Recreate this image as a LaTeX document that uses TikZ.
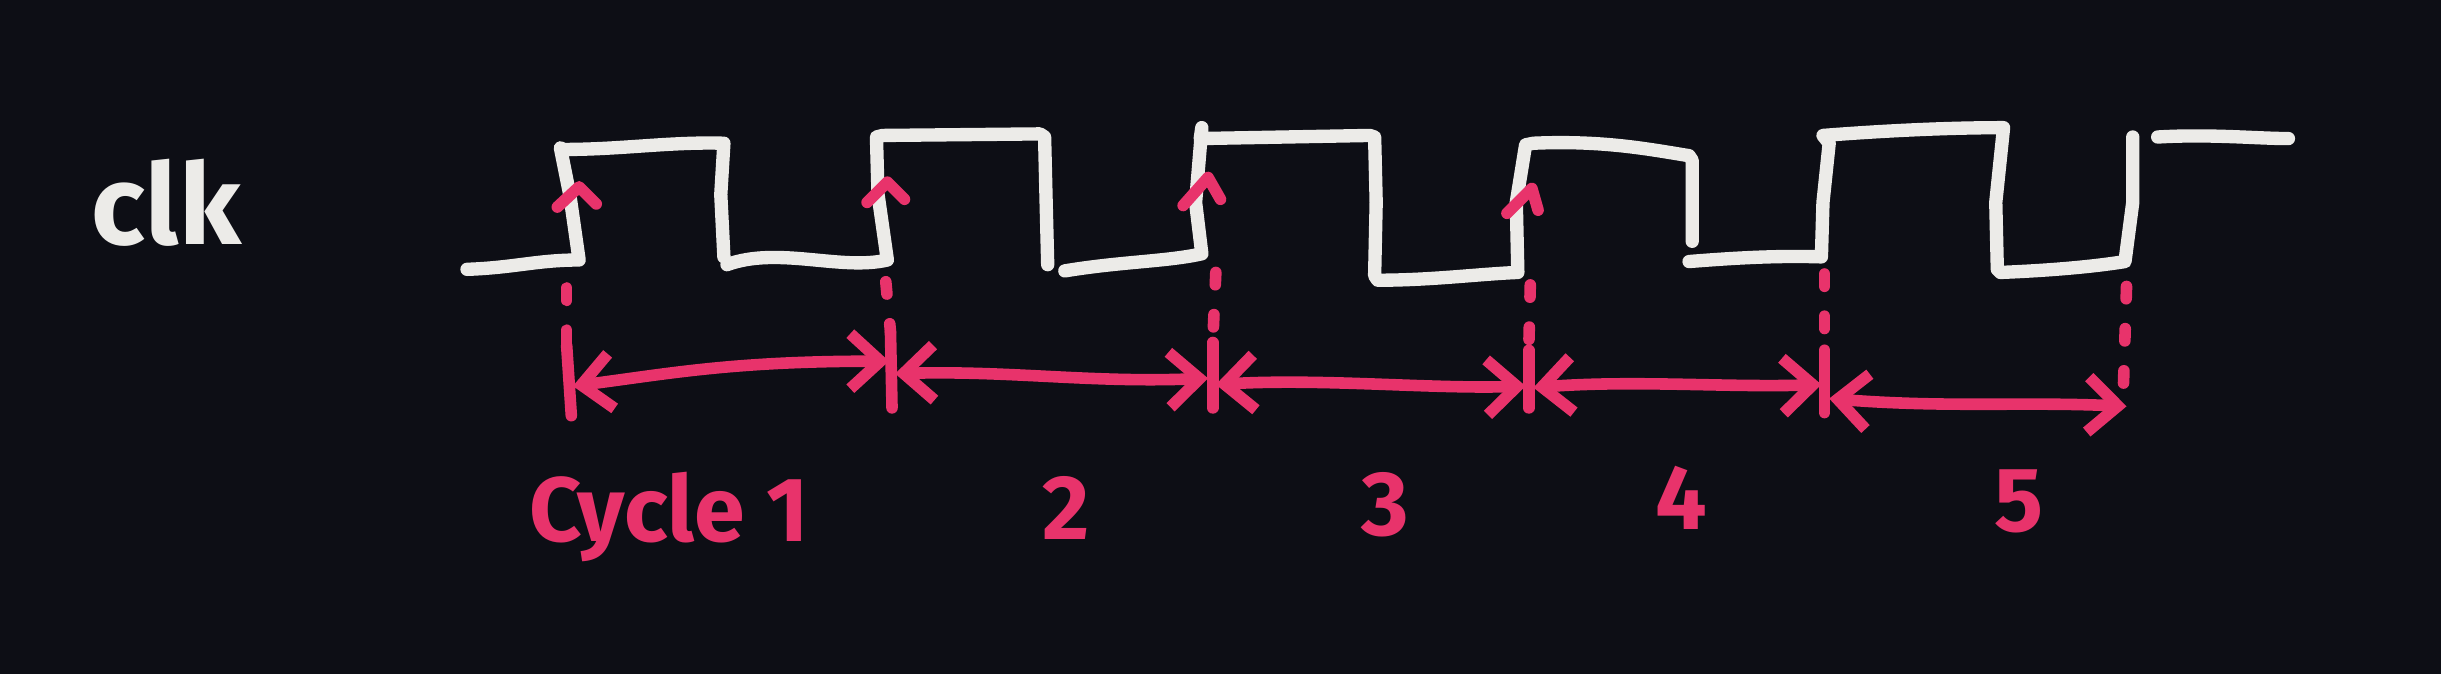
\documentclass[tikz,border=0pt]{standalone}
\usepackage{fontspec}
\setmainfont{Fira Sans}
\usetikzlibrary{arrows.meta}
\definecolor{bg}{HTML}{0D0E15}
\definecolor{chalk}{HTML}{ECEBE8}
\definecolor{pinkred}{HTML}{E8336B}
\begin{document}
\begin{tikzpicture}[x=0.015568cm,y=-0.015568cm,
  wave/.style={draw=chalk,line width=3.8pt,line cap=round,line join=round},
  tick/.style={draw=pinkred,line width=3.3pt,line cap=round},
  guide/.style={draw=pinkred,line width=3.3pt,line cap=round,dash pattern=on 3.5pt off 8.5pt},
  edgemark/.style={draw=pinkred,line width=3.3pt,line cap=round,line join=round},
  span/.style={draw=pinkred,line width=3.3pt,line cap=round,
    {Straight Barb[length=3mm,width=5.5mm]}-{Straight Barb[length=3mm,width=5.5mm]}},
  lbl/.style={text=pinkred,font=\fontsize{26}{30}\selectfont\bfseries,inner sep=0pt},
  sig/.style={text=chalk,font=\fontsize{32}{36}\selectfont\bfseries,inner sep=0pt}]
\fill[bg] (0,0) rectangle (1568,433);
\useasboundingbox (0,0) rectangle (1568,433);

% clock waveform
\draw[wave] (300,173) .. controls (330,172) and (345,167) .. (372,167) -- (366,125) -- (360,95)
  -- (362,96) .. controls (400,96) and (430,91) .. (465,92) -- (463,125) -- (465,165);
\draw[wave] (467,170) .. controls (500,158) and (540,174) .. (570,167) -- (564,125) -- (563,88)
  -- (567,87) -- (668,86) -- (671,88) -- (672,130) -- (673,170);
\draw[wave] (684,174) .. controls (720,168) and (750,168) .. (772,163) -- (768,130) -- (772,82)
  -- (771,89) -- (880,87) -- (883,88) -- (884,130) -- (883,177)
  -- (885,180) .. controls (920,180) and (950,176) .. (975,175) -- (974,130) -- (980,93)
  -- (985,92) .. controls (1030,90) and (1060,96) .. (1085,100) -- (1087,103) -- (1087,155);
\draw[wave] (1085,168) .. controls (1110,166) and (1140,164) .. (1170,165) -- (1171,130) -- (1175,92)
  -- (1171,87) .. controls (1210,84) and (1250,82) .. (1287,82) -- (1282,130) -- (1283,173)
  -- (1285,175) .. controls (1310,174) and (1340,172) .. (1365,168) -- (1370,130) -- (1370,88);
\draw[wave] (1386,88) .. controls (1420,86) and (1450,89) .. (1470,89);

% rising-edge marks
\draw[edgemark] (358,133) -- (372,120) -- (383,131);
\draw[edgemark] (557,130) -- (570,117) -- (581,128);
\draw[edgemark] (760,132) -- (776,114) -- (784,128);
\draw[edgemark] (968,137) -- (984,121) -- (988,135);

% boundary coordinates
\coordinate (t1) at (364,185); \coordinate (b1t) at (364,222); \coordinate (b1b) at (367,267);
\coordinate (t2) at (569,181); \coordinate (b2t) at (572,213); \coordinate (b2b) at (573,262);
\coordinate (t3) at (781,175); \coordinate (b3t) at (779,220); \coordinate (b3b) at (779,262);
\coordinate (t4) at (983,183); \coordinate (b4t) at (982,225); \coordinate (b4b) at (982,262);
\coordinate (t5) at (1172,176); \coordinate (b5t) at (1172,225); \coordinate (b5b) at (1172,265);
\coordinate (t6) at (1366,184); \coordinate (b6t) at (1364,248);

% dashed guides
\foreach \i in {1,...,6} \draw[guide] (t\i) -- (b\i t);

% tick bars
\foreach \i in {1,...,5} \draw[tick] (b\i t) -- (b\i b);

% cycle spans
\coordinate (s1a) at (368,248); \coordinate (s1b) at (571,232);
\coordinate (s2a) at (575,240); \coordinate (s2b) at (776,243);
\coordinate (s3a) at (781,247); \coordinate (s3b) at (980,248);
\coordinate (s4a) at (985,249); \coordinate (s4b) at (1170,247);
\coordinate (s5a) at (1175,256); \coordinate (s5b) at (1366,261);
\draw[span] (s1a) .. controls (430,240) and (470,232) .. (s1b);
\draw[span] (s2a) .. controls (650,238) and (700,246) .. (s2b);
\draw[span] (s3a) .. controls (850,243) and (920,250) .. (s3b);
\draw[span] (s4a) .. controls (1050,244) and (1110,249) .. (s4b);
\draw[span] (s5a) .. controls (1250,262) and (1300,258) .. (s5b);

% labels
\node[sig] (clk) at (107,130) {clk};
\node[lbl] (c1) at (430,332) {Cycle 1};
\node[lbl] (c2) at (685,326) {2};
\node[lbl] (c3) at (890,324) {3};
\node[lbl] (c4) at (1080,320) {4};
\node[lbl] (c5) at (1297,322) {5};
\end{tikzpicture}
\end{document}
